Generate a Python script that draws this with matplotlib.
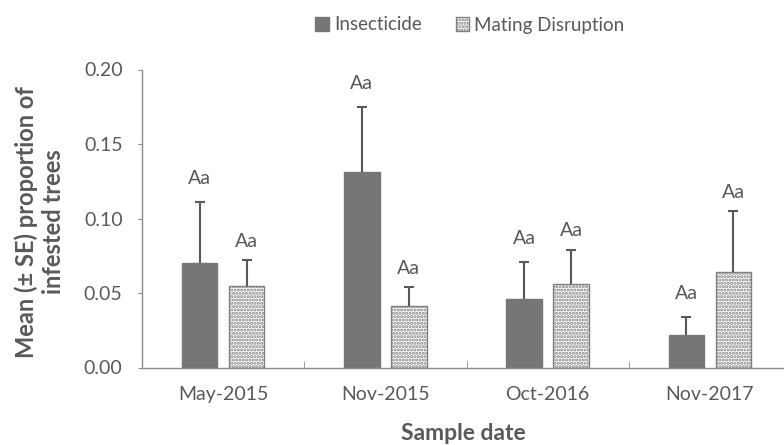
import matplotlib
matplotlib.use("Agg")
import matplotlib.pyplot as plt
import numpy as np

# data
dates = ["May-2015", "Nov-2015", "Oct-2016", "Nov-2017"]
insecticide = [0.070, 0.131, 0.046, 0.022]
insecticide_se = [0.041, 0.044, 0.025, 0.012]
mating = [0.055, 0.041, 0.056, 0.064]
mating_se = [0.017, 0.013, 0.023, 0.041]
letters_ins = ["Aa", "Aa", "Aa", "Aa"]
letters_md = ["Aa", "Aa", "Aa", "Aa"]

GRAY = "#595959"
AXIS = "#8c8c8c"
INS_COLOR = "#767676"

plt.rcParams["font.family"] = ["Lato", "DejaVu Sans"]
plt.rcParams["hatch.linewidth"] = 1.5
plt.rcParams["hatch.color"] = "#000000"

fig = plt.figure(figsize=(7.84, 4.45), dpi=100)
ax = fig.add_axes([142 / 784, 1 - 367.5 / 445, 649 / 784, 298 / 445])

x = np.arange(len(dates))
w = 0.22
off = 0.145

ax.bar(x - off, insecticide, w, color=INS_COLOR, edgecolor=INS_COLOR,
       label="Insecticide", zorder=2)
ax.bar(x + off, mating, w, color="white", edgecolor="#808080", hatch=".....",
       linewidth=1.0, label="Mating Disruption", zorder=2)

for xs, vals, se in [(x - off, insecticide, insecticide_se),
                     (x + off, mating, mating_se)]:
    eb = ax.errorbar(xs, vals, yerr=[np.zeros(len(vals)), se], fmt="none",
                     ecolor=GRAY, elinewidth=1.5, capsize=3.5, capthick=1.5,
                     zorder=3)
    eb[1][0].set_visible(False)  # drop the cap sitting on the bar top

for xi, v, s, t in zip(x - off, insecticide, insecticide_se, letters_ins):
    ax.text(xi, v + s + 0.010, t, ha="center", va="bottom", color=GRAY, fontsize=14)
for xi, v, s, t in zip(x + off, mating, mating_se, letters_md):
    ax.text(xi, v + s + 0.007, t, ha="center", va="bottom", color=GRAY, fontsize=14)

ax.set_xlim(-0.5, len(dates) - 0.5)
ax.set_ylim(0, 0.20)
ax.set_yticks([0.0, 0.05, 0.10, 0.15, 0.20])
ax.set_yticklabels(["0.00", "0.05", "0.10", "0.15", "0.20"])
ax.set_xticks(x)
ax.set_xticklabels(dates)
ax.set_xticks(np.arange(len(dates) + 1) - 0.5, minor=True)

ax.tick_params(axis="y", colors=AXIS, labelcolor=GRAY, labelsize=14,
               direction="out", length=3, pad=11)
ax.tick_params(axis="x", which="major", length=0, labelcolor=GRAY,
               labelsize=14, pad=13)
ax.tick_params(axis="x", which="minor", direction="in", length=5, colors=AXIS)

for side in ["top", "right"]:
    ax.spines[side].set_visible(False)
for side in ["left", "bottom"]:
    ax.spines[side].set_color(AXIS)
    ax.spines[side].set_linewidth(1.0)

fig.text(40 / 784, 1 - 222 / 445, "Mean (± SE) proportion of\ninfested trees",
         rotation=90, ha="center", va="center", multialignment="center",
         color=GRAY, fontsize=17, fontweight="bold", linespacing=1.2)
fig.text(463 / 784, 1 - 433 / 445, "Sample date", ha="center", va="center",
         color=GRAY, fontsize=16.5, fontweight="bold")

ax.legend(loc="center", bbox_to_anchor=(470 / 784, 1 - 25 / 445),
          bbox_transform=fig.transFigure, ncol=2, frameon=False,
          fontsize=13.5, labelcolor=GRAY, handlelength=0.7, handleheight=0.7,
          handletextpad=0.3, columnspacing=1.8)

fig.savefig("out.png", dpi=100)
